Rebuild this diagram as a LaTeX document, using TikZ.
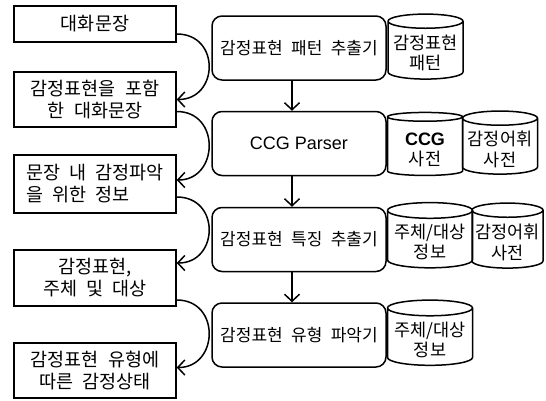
\documentclass[tikz,border=0pt]{standalone}
\usepackage{fontspec}
\setmainfont{Noto Sans CJK KR}[WordSpace=2.2]
\newfontfamily\latfont{Liberation Sans}
\usetikzlibrary{shapes.geometric,arrows.meta}

% two lines set a little low in a cylinder
\newcommand{\cyltext}[1]{\raisebox{-5pt}[\height][\depth]{\begin{tabular}{@{}c@{}}#1\end{tabular}}}

\tikzset{
  infobox/.style={draw, line width=1.5pt, minimum width=162pt, inner sep=0pt,
    align=center, font=\fontsize{18.5}{22}\selectfont},
  modbox/.style={draw, line width=1.5pt, rounded corners=10pt, minimum width=174pt,
    minimum height=64pt, font=\fontsize{17}{18}\selectfont},
  dbcyl/.style={draw, cylinder, shape border rotate=90, aspect=0.22, line width=1.5pt,
    inner sep=0pt, font=\fontsize{17.5}{20}\selectfont},
  flowarrow/.style={-{Straight Barb[length=7pt,width=15pt]}, line width=1.5pt}
}

\begin{document}
\begin{tikzpicture}[x=1pt,y=-1pt]
\useasboundingbox (0,0) rectangle (546,400);
% left column: what comes out of each step
\node[infobox, minimum height=36pt] (L1) at (95,24) {대화문장};
\node[infobox, minimum height=55pt] (L2) at (95,99.5) {감정표현을 포함\\한 대화문장};
\node[infobox, minimum height=58pt, align=left] (L3) at (95,184) {문장 내 감정파악\\을 위한 정보};
\node[infobox, minimum height=56pt] (L4) at (95,278) {감정표현,\\주체 및 대상};
\node[infobox, minimum height=55pt] (L5) at (95,370.5) {감정표현 유형에\\따른 감정상태};
% middle column: the modules
\node[modbox] (M1) at (299,48) {감정표현 패턴 추출기};
\node[modbox] (M2) at (299,143.5) {\latfont\fontsize{18}{18}\selectfont CCG Parser};
\node[modbox] (M3) at (299,239.5) {감정표현 특징 추출기};
\node[modbox] (M4) at (299,335) {감정표현 유형 파악기};
% right column: resources
\node[dbcyl, minimum width=75pt, minimum height=65pt] (R1) at (425.5,50.5) {\cyltext{감정표현\\패턴}};
\node[dbcyl, minimum width=75pt, minimum height=63pt] (R2) at (425,146.5) {\cyltext{{\latfont\bfseries\fontsize{18}{20}\selectfont CCG}\\사전}};
\node[dbcyl, minimum width=75pt, minimum height=63pt] (R3) at (500,146.5) {\cyltext{감정어휘\\사전}};
\node[dbcyl, minimum width=85pt, minimum height=65pt] (R4) at (430,239.5) {\cyltext{주체/대상\\정보}};
\node[dbcyl, minimum width=71pt, minimum height=65pt] (R5) at (507.5,239.5) {\cyltext{감정어휘\\사전}};
\node[dbcyl, minimum width=85pt, minimum height=64pt] (R6) at (430,337) {\cyltext{주체/대상\\정보}};

\foreach \a/\b/\s/\e in {L1/L2/-10/0, L2/L3/-12/4, L3/L4/-13/15, L4/L5/-22/3} % edit here for the curved arrows
\draw[flowarrow] ([yshift=\s pt]\a.east) .. controls +(44,0) and +(42,0) .. ([yshift=\e pt]\b.east);
\foreach \a/\b in {M1/M2, M2/M3, M3/M4} % edit here for the down arrows
\draw[flowarrow] ([xshift=-7pt]\a.south) -- ([xshift=-7pt]\b.north);
\end{tikzpicture}
\end{document}
